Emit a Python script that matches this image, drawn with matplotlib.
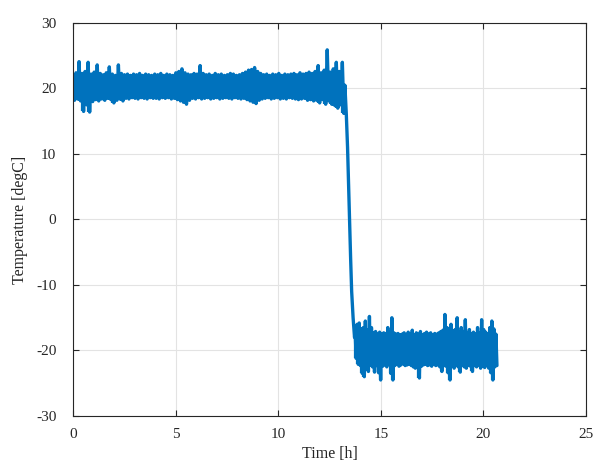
import numpy as np
import matplotlib
matplotlib.use("Agg")
import matplotlib.pyplot as plt
from matplotlib.ticker import FuncFormatter

# ---- data ----
# warm phase (0 .. 13.2 h): alternating upper / lower excursions
hi_peaks = [21.5, 22.4, 24.1, 22.3, 22.6, 24.0, 22.2, 22.5, 23.6, 22.3,
            22.1, 22.4, 23.3, 22.2, 22.0, 23.6, 22.3, 22.1, 22.2, 22.0,
            22.2, 22.1, 22.3, 22.0, 22.2, 22.1, 22.0, 22.2, 22.1, 22.3,
            22.0, 22.2, 22.1, 22.0, 22.4, 22.6, 23.0, 22.4, 22.2, 22.1,
            22.3, 22.2, 23.5, 22.3, 22.1, 22.2, 22.0, 22.3, 22.1, 22.2,
            22.0, 22.1, 22.3, 22.2, 22.0, 22.1, 22.3, 22.5, 22.8, 22.9,
            23.2, 22.6, 22.3, 22.1, 22.2, 22.0, 22.2, 22.1, 22.3, 22.0,
            22.2, 22.1, 22.2, 22.3, 22.1, 22.4, 22.2, 22.3, 22.5, 22.3,
            22.6, 23.5, 22.4, 22.8, 25.9, 22.5, 23.0, 24.0, 22.6, 24.0]
hi_troughs = [18.2, 18.4, 18.1, 16.5, 17.5, 16.4, 18.0, 18.3, 18.1, 18.4,
              18.2, 18.5, 18.3, 17.8, 18.2, 18.4, 18.1, 18.5, 18.4, 18.6,
              18.5, 18.4, 18.6, 18.5, 18.4, 18.6, 18.5, 18.5, 18.4, 18.6,
              18.5, 18.6, 18.4, 18.5, 18.3, 18.1, 17.9, 17.6, 18.2, 18.5,
              18.4, 18.6, 18.4, 18.5, 18.6, 18.4, 18.5, 18.6, 18.4, 18.5,
              18.6, 18.5, 18.4, 18.6, 18.5, 18.4, 18.5, 18.3, 18.1, 17.9,
              17.7, 18.2, 18.4, 18.5, 18.6, 18.4, 18.5, 18.6, 18.4, 18.5,
              18.4, 18.6, 18.5, 18.4, 18.3, 18.4, 18.5, 18.2, 18.3, 18.1,
              18.2, 17.8, 18.3, 17.6, 18.1, 17.6, 17.4, 17.0, 17.5, 16.2]

# transition (drop)
drop_t = [13.25, 13.32, 13.38, 13.45, 13.53, 13.58, 13.65, 13.72]
drop_v = [20.5, 16.0, 11.0, 3.0, -6.0, -11.0, -15.0, -18.0]

# cold phase (13.75 .. 20.66 h): alternating upper / lower excursions
lo_peaks = [-17.2, -16.0, -15.8, -16.7, -16.5, -15.5, -16.9, -14.8, -16.5, -17.3,
            -17.1, -17.5, -17.2, -17.5, -17.3, -17.4, -16.5, -17.2, -15.0, -17.3,
            -17.5, -17.4, -17.6, -17.5, -17.3, -17.6, -17.2, -17.5, -16.9, -17.6,
            -17.3, -17.5, -17.1, -17.6, -17.4, -17.2, -17.5, -17.3, -17.6, -17.4,
            -17.5, -17.3, -17.1, -16.9, -14.5, -16.5, -16.7, -16.0, -17.0, -16.8,
            -15.0, -17.2, -16.5, -17.1, -15.3, -17.3, -16.8, -17.4, -17.2, -17.5,
            -16.5, -17.3, -15.3, -16.8, -17.2, -17.5, -16.5, -15.5, -16.7, -17.5]
lo_troughs = [-21.2, -22.1, -22.3, -23.5, -24.0, -22.3, -23.2, -22.2, -22.5, -23.3,
              -22.3, -23.4, -24.5, -22.4, -22.2, -22.5, -22.1, -23.5, -24.5, -22.3,
              -22.1, -22.4, -22.2, -22.0, -22.3, -22.2, -22.1, -22.3, -22.5, -22.7,
              -22.3, -24.2, -22.4, -22.2, -22.1, -22.3, -22.2, -22.4, -22.1, -22.3,
              -22.2, -22.5, -23.2, -22.3, -22.4, -23.4, -24.5, -22.4, -22.7, -22.3,
              -22.5, -23.3, -22.3, -22.5, -22.7, -22.3, -22.4, -23.2, -22.3, -22.5,
              -22.2, -22.7, -22.4, -22.6, -22.3, -22.7, -23.4, -24.5, -22.5, -22.3]

hi_t_range = (0.0, 13.2)
lo_t_range = (13.75, 20.66)

x_ticks = [0, 5, 10, 15, 20, 25]
y_ticks = [-30, -20, -10, 0, 10, 20, 30]
x_label = "Time [h]"
y_label = "Temperature [degC]"

# ---- assemble series ----
hi_v = np.column_stack([hi_peaks, hi_troughs]).ravel()
hi_t = np.linspace(hi_t_range[0], hi_t_range[1], len(hi_v))
lo_v = np.column_stack([lo_peaks, lo_troughs]).ravel()
lo_t = np.linspace(lo_t_range[0], lo_t_range[1], len(lo_v))

t = np.concatenate([hi_t, drop_t, lo_t])
v = np.concatenate([hi_v, drop_v, lo_v])

# ---- plot ----
plt.rcParams["font.family"] = ["Liberation Serif", "DejaVu Serif"]
plt.rcParams["axes.unicode_minus"] = False
dark = "#262626"
blue = "#0072BD"

fig = plt.figure(figsize=(5.93, 4.68), dpi=100)
ax = fig.add_axes([73 / 593, 1 - 416 / 468, (586 - 73) / 593, (416 - 23) / 468])
# swing range of each oscillation (same samples) keeps the noisy band solid
ax.vlines(hi_t[0::2], hi_troughs, hi_peaks, color=blue, lw=1.6)
ax.vlines(lo_t[0::2], lo_troughs, lo_peaks, color=blue, lw=1.6)
ax.plot(t, v, color=blue, lw=2.4, solid_joinstyle="round",
        solid_capstyle="round")

ax.set_xlim(0, 25)
ax.set_ylim(-30, 30)
ax.set_xticks(x_ticks)
ax.set_yticks(y_ticks)
fmt = FuncFormatter(lambda val, pos: f"{val:g}".replace("\u2212", "-"))
ax.xaxis.set_major_formatter(fmt)
ax.yaxis.set_major_formatter(fmt)
ax.grid(True, color="#e3e3e3", lw=0.8)
ax.set_axisbelow(True)
for s in ax.spines.values():
    s.set_color(dark)
    s.set_linewidth(0.8)
ax.tick_params(direction="in", length=4, width=0.8, color=dark,
               labelcolor=dark, labelsize=11, top=True, right=True)
ax.tick_params(axis="x", pad=9)
ax.tick_params(axis="y", pad=12)
ax.set_xlabel(x_label, fontsize=11.5, color=dark, labelpad=3)
ax.set_ylabel(y_label, fontsize=11.5, color=dark, labelpad=6)

fig.savefig("out.png", dpi=100)
